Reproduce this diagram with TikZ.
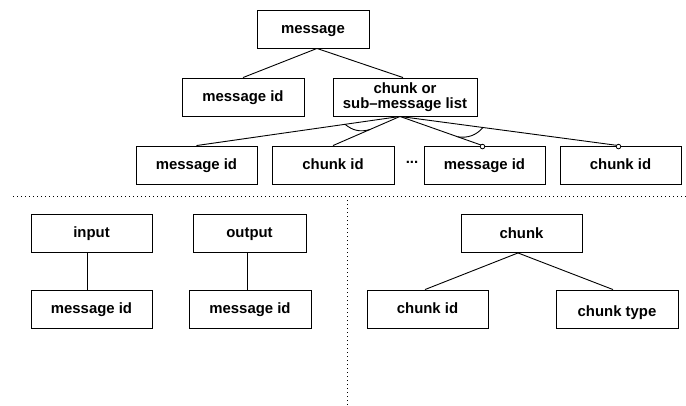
\documentclass[tikz,border=0pt]{standalone}
\usepackage{fontspec}
\setmainfont{Liberation Sans}
\usetikzlibrary{calc}

\tikzset{
  lbl/.style={font=\fontsize{14.9}{16}\selectfont\bfseries},
  box/.style={lbl, draw, line width=0.9pt, minimum height=38, inner sep=0pt,
              text height=11.5pt, text depth=2.3pt},
  twoline/.style={lbl, draw, line width=0.9pt, minimum height=38, inner sep=0pt,
              align=center},
  link/.style={line width=0.9pt},
  sep/.style={line width=1pt, dash pattern=on 0.8pt off 3.2pt},
  opt/.style={line width=0.8pt, fill=white},
}

\begin{document}
\begin{tikzpicture}[x=1pt, y=-1pt]
  \useasboundingbox (0,0) rectangle (686,405);

  % message structure
  \node[box, minimum width=112] (msg)  at (313,29)   {message};
  \node[box, minimum width=122] (mid)  at (243,97)   {message id};
  \node[twoline, minimum width=144] (list) at (405,97) {chunk or\\[-1pt]sub–message list};
  \node[box, minimum width=121] (b1)   at (196.5,165) {message id};
  \node[box, minimum width=122] (b2)   at (333,165)  {chunk id};
  \node[lbl, text height=10.7pt, text depth=3.1pt, inner sep=0pt] (dots) at (412,159.5) {...};
  \node[box, minimum width=121] (b3)   at (484.5,165) {message id};
  \node[box, minimum width=121] (b4)   at (620.5,165) {chunk id};

  \draw[link] ([xshift=4]msg.south) -- (mid.north);
  \draw[link] ([xshift=4]msg.south) -- ([xshift=-2]list.north);

  \coordinate (ls) at ([xshift=-5]list.south);
  \draw[link] (ls) -- (b1.north);
  \draw[link] (ls) -- (b2.north);
  \draw[link] (ls) -- ([xshift=-2]b3.north);
  \draw[link] (ls) -- ([xshift=-2]b4.north);

  % alternative groups
  \draw[link] ($(ls)!0.27!(b1.north)$) to[bend right=28] ($(ls)!0.45!(b2.north)$);
  \draw[link] ($(ls)!0.70!([xshift=-2]b3.north)$) to[bend right=28] ($(ls)!0.38!([xshift=-2]b4.north)$);

  % optional members
  \draw[opt] ([xshift=-2,yshift=-1]b3.north) circle (2.3);
  \draw[opt] ([xshift=-2,yshift=-1]b4.north) circle (2.3);

  % separators
  \coordinate (hl) at (13,196);
  \coordinate (hr) at (686,196);
  \coordinate (vt) at (347,200);
  \coordinate (vb) at (347,405);
  \draw[sep] (hl) -- (hr);
  \draw[sep] (vt) -- (vb);

  % input / output
  \node[box, minimum width=121] (in)    at (91.5,233) {input};
  \node[box, minimum width=121] (inid)  at (91.5,309) {message id};
  \node[box, minimum width=113] (out)   at (249.5,233) {output};
  \node[box, minimum width=122] (outid) at (250,309)  {message id};
  \draw[link] ([xshift=-4.5]in.south) -- ([xshift=-4.5]inid.north);
  \draw[link] ([xshift=-2.5]out.south) -- ([xshift=-3]outid.north);

  % chunk structure
  \node[box, minimum width=121] (chunk) at (521.5,233.5) {chunk};
  \node[box, minimum width=121] (cid)   at (427.5,309) {chunk id};
  \node[box, minimum width=122] (ctype) at (617,309) {\raisebox{-2.5pt}{chunk type}};
  \draw[link] ([xshift=-3.5]chunk.south) -- ([xshift=-2.5]cid.north);
  \draw[link] ([xshift=-3.5]chunk.south) -- ([xshift=-4]ctype.north);
\end{tikzpicture}
\end{document}
